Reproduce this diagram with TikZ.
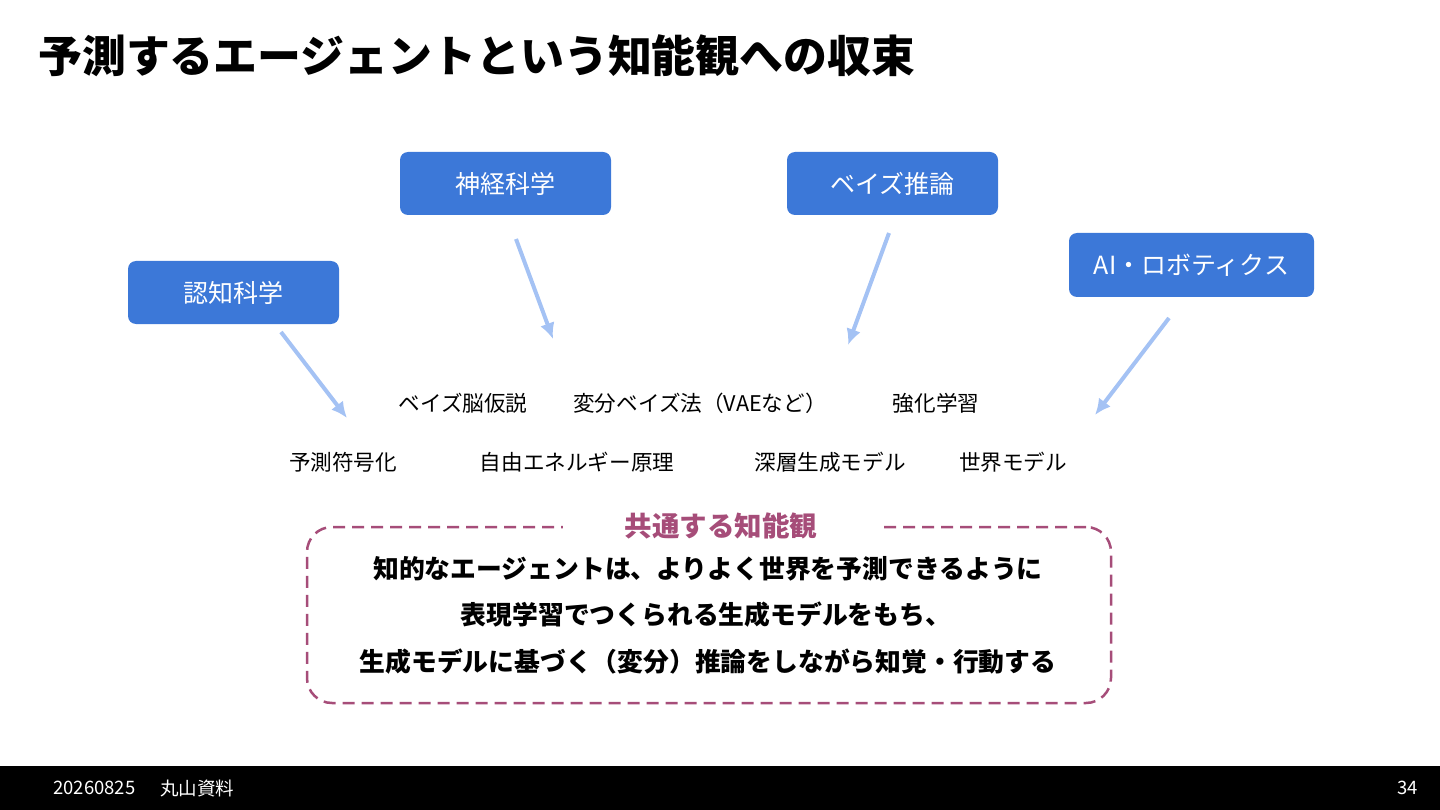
\documentclass[tikz,border=0pt]{standalone}
\usepackage{fontspec}
\setmainfont{Noto Sans CJK JP}
\usetikzlibrary{arrows.meta,positioning}
\definecolor{boxblue}{HTML}{3C78D8}
\definecolor{arrowblue}{HTML}{A4C2F4}
\definecolor{plum}{HTML}{A64D79}

\begin{document}
\begin{tikzpicture}
		[x=1pt,y=-1pt,
		field/.style ={rectangle, fill=boxblue, text=white, rounded corners=8pt, minimum width=211pt, minimum height=63pt, font=\fontsize{25}{30}\selectfont},
		line/.style ={draw=arrowblue, line width=4pt, -{Latex[length=16pt,width=15pt]}},
		topic/.style ={inner sep=0pt, font=\fontsize{21.6}{26}\selectfont},
		frame/.style ={draw=plum, line width=2.5pt, dash pattern=on 12pt off 7pt, rounded corners=25pt, minimum width=804pt, minimum height=176pt},
		header/.style ={fill=white, text=plum, inner xsep=62pt, inner ysep=2pt, font=\bfseries\fontsize{27.5}{32}\selectfont},
		claim/.style ={inner sep=0pt, font=\bfseries\fontsize{25.8}{30}\selectfont},
		foot/.style ={text=white, inner sep=0pt, font=\fontsize{18.5}{22}\selectfont},
		]
		\useasboundingbox (0,0) rectangle (1440,810);

		\draw (38,56) node[anchor=west, inner sep=0pt, font=\bfseries\fontsize{43.9}{50}\selectfont] (title) {予測するエージェントという知能観への収束};

		% fields
		\draw (233.5,292.5) node[field] (F1) {認知科学};
		\draw (505.5,183.5) node[field] (F2) {神経科学};
		\draw (892.5,183.5) node[field] (F3) {ベイズ推論};
		\draw (1191.5,265) node[field, minimum width=245pt, minimum height=64pt] (F4) {AI・ロボティクス};

		% arrow ends
		\coordinate (S1) at (281,332);
		\coordinate (E1) at (347,418);
		\coordinate (S2) at (516,239);
		\coordinate (E2) at (553,339);
		\coordinate (S3) at (889,233);
		\coordinate (E3) at (848,345);
		\coordinate (S4) at (1169,318);
		\coordinate (E4) at (1095,415);

		\path
		(S1) edge[line] (E1)
		(S2) edge[line] (E2)
		(S3) edge[line] (E3)
		(S4) edge[line] (E4);

		% topics
		\draw (463,403) node[topic] (T1) {ベイズ脳仮説};
		\draw (700,403) node[topic] (T2) {変分ベイズ法（VAEなど）};
		\draw (936,403) node[topic] (T3) {強化学習};
		\draw (343,462) node[topic] (T4) {予測符号化};
		\draw (577,462) node[topic] (T5) {自由エネルギー原理};
		\draw (830,462) node[topic] (T6) {深層生成モデル};
		\draw (1013,462) node[topic] (T7) {世界モデル};

		% common view
		\draw (709,615) node[frame] (common) {};
		\draw (721,526) node[header] (view) {共通する知能観};
		\draw (708,569) node[claim] (C1) {知的なエージェントは、よりよく世界を予測できるように};
		\draw (706,615) node[claim] (C2) {表現学習でつくられる生成モデルをもち、};
		\draw (708,662) node[claim] (C3) {生成モデルに基づく（変分）推論をしながら知覚・行動する};

		% footer
		\fill[black] (0,766) rectangle (1440,810);
		\draw (53,788) node[foot, anchor=west] (date) {20260825};
		\draw (160,788) node[foot, anchor=west] (owner) {丸山資料};
		\draw (1418,788) node[foot, anchor=east] (page) {34};

	\end{tikzpicture}
\end{document}
